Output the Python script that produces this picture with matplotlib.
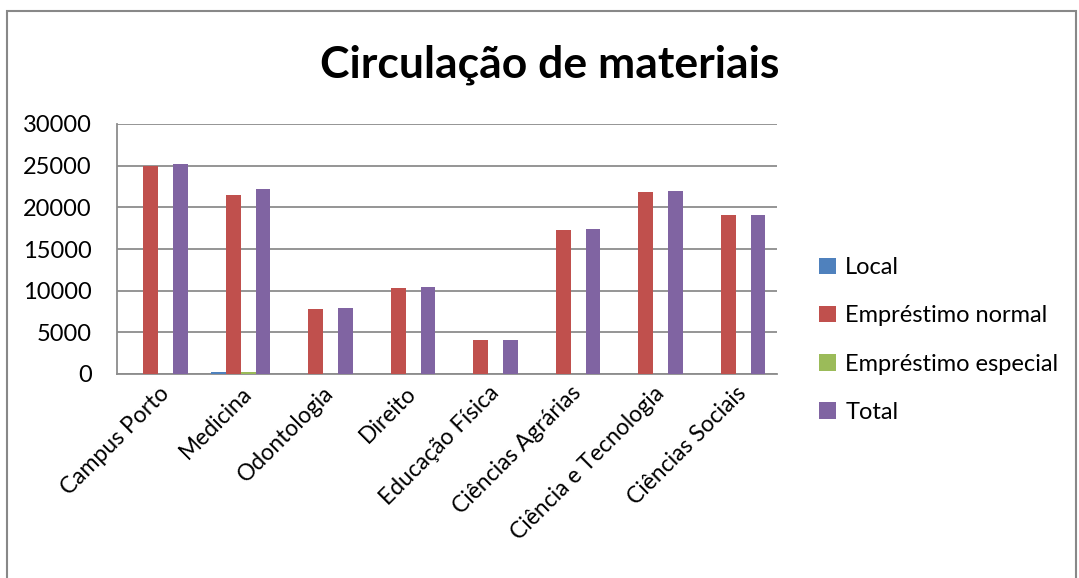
import matplotlib
matplotlib.use("Agg")
import matplotlib.pyplot as plt
import numpy as np
from matplotlib.patches import Rectangle

categories = ["Campus Porto", "Medicina", "Odontologia", "Direito", "Educação Física",
              "Ciências Agrárias", "Ciência e Tecnologia", "Ciências Sociais"]
series_names = ["Local", "Empréstimo normal", "Empréstimo especial", "Total"]
local = [10, 280, 10, 20, 5, 10, 15, 10]
normal = [25000, 21450, 7800, 10300, 4050, 17300, 21800, 19050]
especial = [60, 300, 40, 20, 10, 40, 30, 20]
total = [25200, 22150, 7900, 10400, 4080, 17400, 21950, 19100]
yticks = [0, 5000, 10000, 15000, 20000, 25000, 30000]
colors = ["#4F81BD", "#C0504D", "#9BBB59", "#8064A2"]

plt.rcParams['font.family'] = ['Lato', 'DejaVu Sans']

fig = plt.figure(figsize=(10.79, 5.78), dpi=100)
fig.patches.append(Rectangle((7/1079, -0.05), 1069/1079, 1.05 - 11/578,
                             transform=fig.transFigure, fill=False,
                             edgecolor="#888888", linewidth=1.5))
ax = fig.add_axes([117/1079, 204/578, 660/1079, 250/578])

x = np.arange(len(categories))
w = 0.18
for i, (vals, name) in enumerate(zip([local, normal, especial, total], series_names)):
    ax.bar(x + (i - 1.5) * w, vals, width=w, color=colors[i], label=name, zorder=3)

ax.set_xlim(-0.5, len(categories) - 0.5)
ax.set_ylim(0, 30000)
ax.set_yticks(yticks)
ax.set_yticklabels([str(v) for v in yticks], fontsize=17)
ax.yaxis.grid(True, color="#8c8c8c", linewidth=1.3, zorder=0)
ax.tick_params(axis='y', length=0, pad=18)
ax.tick_params(axis='x', length=0, pad=6)
ax.set_xticks(x)
ax.set_xticklabels(categories, rotation=45, ha='right', rotation_mode='anchor', fontsize=16.5)
for s in ['top', 'right']:
    ax.spines[s].set_visible(False)
for s in ['left', 'bottom']:
    ax.spines[s].set_color("#8c8c8c")
    ax.spines[s].set_linewidth(1.3)

fig.text(550/1079, 1 - 65/578, "Circulação de materiais", fontsize=32, fontweight='bold',
         ha='center', va='center')

leg = fig.legend(loc='center left', bbox_to_anchor=(798/1079, 1 - 340/578), frameon=False,
                 fontsize=17, handlelength=0.7, handleheight=0.7, handletextpad=0.4,
                 labelspacing=1.15)

fig.savefig("out.png", dpi=100)
